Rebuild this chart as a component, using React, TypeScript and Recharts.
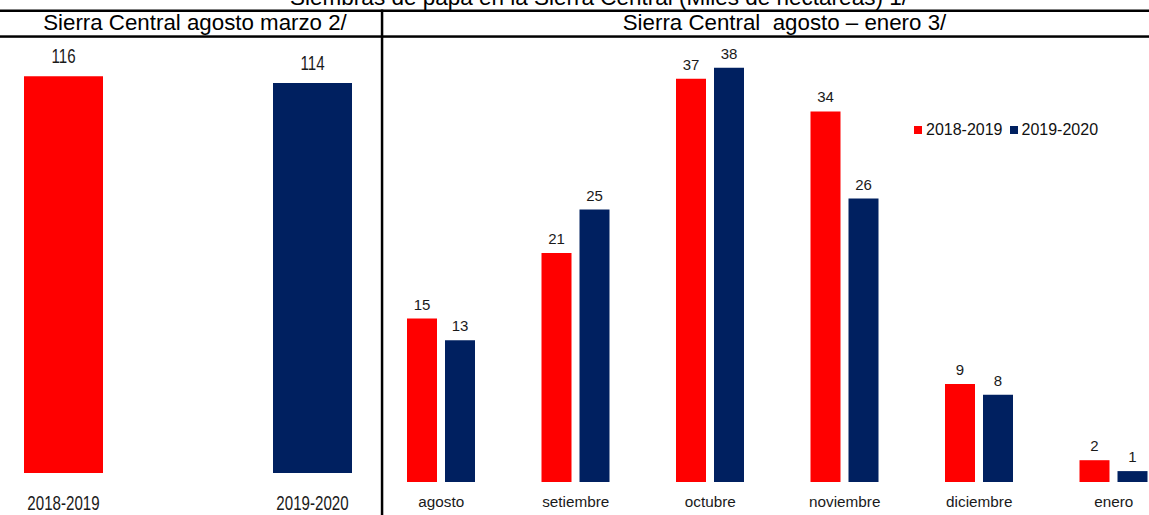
import { Bar, BarChart, Cell, LabelList, XAxis, YAxis } from "recharts";

const periodos = ["2018-2019", "2019-2020"];
const siembrasAgostoMarzo = [116, 114];

const meses = ["agosto", "setiembre", "octubre", "noviembre", "diciembre", "enero"];
const campana1819 = [15, 21, 37, 34, 9, 2];
const campana1920 = [13, 25, 38, 26, 8, 1];

const ROJO = "#FF0000";
const AZUL = "#002060";
const SANS = "'Liberation Sans', Arial, Helvetica, sans-serif";

const acumulado = periodos.map((periodo, i) => ({ periodo, valor: siembrasAgostoMarzo[i] }));
const mensual = meses.map((mes, i) => ({
  mes,
  "2018-2019": campana1819[i],
  "2019-2020": campana1920[i]
}));

const series = [
  { key: "2018-2019", color: ROJO },
  { key: "2019-2020", color: AZUL }
];

// texto angosto: Liberation Sans comprimido en horizontal
function Angosto({ x, y, size, sx, children }: any) {
  return (
    <g transform={`translate(${x},${y}) scale(${sx},1)`}>
      <text x={0} y={0} textAnchor="middle" fontSize={size} fontFamily={SANS} fill="#1a1a1a">
        {children}
      </text>
    </g>
  );
}

function TickPeriodo({ x, y, payload }: any) {
  return (
    <Angosto x={x} y={y + 29} size={21} sx={0.72}>
      {payload.value}
    </Angosto>
  );
}

function TickMes({ x, y, payload }: any) {
  return (
    <text x={x} y={y + 17} textAnchor="middle" fontSize={15.3} fontFamily={SANS} fill="#1a1a1a">
      {payload.value}
    </text>
  );
}

function EtiquetaAcumulado({ x, y, width, value }: any) {
  return (
    <Angosto x={x + width / 2} y={y - 13} size={21} sx={0.72}>
      {value}
    </Angosto>
  );
}

export default function App() {
  return (
    <div
      style={{
        position: "relative",
        width: 1149,
        height: 515,
        overflow: "hidden",
        background: "#fff",
        fontFamily: SANS
      }}
    >
      <style>{"body{margin:0}"}</style>

      {/* acumulado agosto-marzo */}
      <div style={{ position: "absolute", left: 0, top: 0, width: 381, height: 515, overflow: "hidden" }}>
        <div style={{ marginLeft: -61 }}>
          <BarChart width={498} height={515} data={acumulado} margin={{ top: 28.4, right: 0, bottom: 12, left: 0 }}>
            <YAxis hide domain={[0, 130]} />
            <XAxis dataKey="periodo" axisLine={false} tickLine={false} height={30} tick={<TickPeriodo />} />
            <Bar dataKey="valor" barSize={79} isAnimationActive={false}>
              {acumulado.map((d, i) => (
                <Cell key={d.periodo} fill={i === 0 ? ROJO : AZUL} />
              ))}
              <LabelList dataKey="valor" content={<EtiquetaAcumulado />} />
            </Bar>
          </BarChart>
        </div>
      </div>

      {/* agosto-enero por mes */}
      <div style={{ position: "absolute", left: 374, top: 0 }}>
        <BarChart
          width={807}
          height={515}
          data={mensual}
          barGap={8}
          margin={{ top: 46, right: 0, bottom: 3, left: 0 }}
        >
          <YAxis hide domain={[0, 40]} />
          <XAxis dataKey="mes" axisLine={false} tickLine={false} height={30} tick={<TickMes />} />
          {series.map((s) => (
            <Bar key={s.key} dataKey={s.key} fill={s.color} barSize={30} isAnimationActive={false}>
              <LabelList dataKey={s.key} position="top" offset={9} fill="#1a1a1a" fontSize={15} fontFamily={SANS} />
            </Bar>
          ))}
        </BarChart>
      </div>

      {/* leyenda de campañas */}
      <div
        style={{
          position: "absolute",
          left: 914,
          top: 121,
          display: "flex",
          alignItems: "center",
          fontSize: 16,
          color: "#111"
        }}
      >
        {series.map((s) => (
          <span key={s.key} style={{ display: "flex", alignItems: "center", marginRight: 7 }}>
            <span style={{ width: 8, height: 8, background: s.color, marginRight: 4 }} />
            {s.key}
          </span>
        ))}
      </div>

      {/* marco del cuadro: título, encabezados y divisiones */}
      <svg
        width={1149}
        height={515}
        style={{ position: "absolute", left: 0, top: 0, pointerEvents: "none" }}
      >
        <text x={599} y={4.5} textAnchor="middle" fontSize={22.5} fontFamily={SANS} fill="#000">
          Siembras de papa en la Sierra Central (Miles de hectáreas)  1/
        </text>
        <rect x={0} y={9.5} width={1149} height={2.5} fill="#000" />
        <rect x={0} y={35.3} width={1149} height={2.5} fill="#000" />
        <rect x={380.8} y={9.5} width={2.5} height={506} fill="#000" />
        <text x={195} y={29.5} textAnchor="middle" fontSize={22.3} fontFamily={SANS} fill="#000">
          Sierra Central agosto marzo 2/
        </text>
        <text x={784.5} y={29.5} textAnchor="middle" fontSize={22.3} fontFamily={SANS} fill="#000" xmlSpace="preserve">
          Sierra Central  agosto – enero 3/
        </text>
      </svg>
    </div>
  );
}
